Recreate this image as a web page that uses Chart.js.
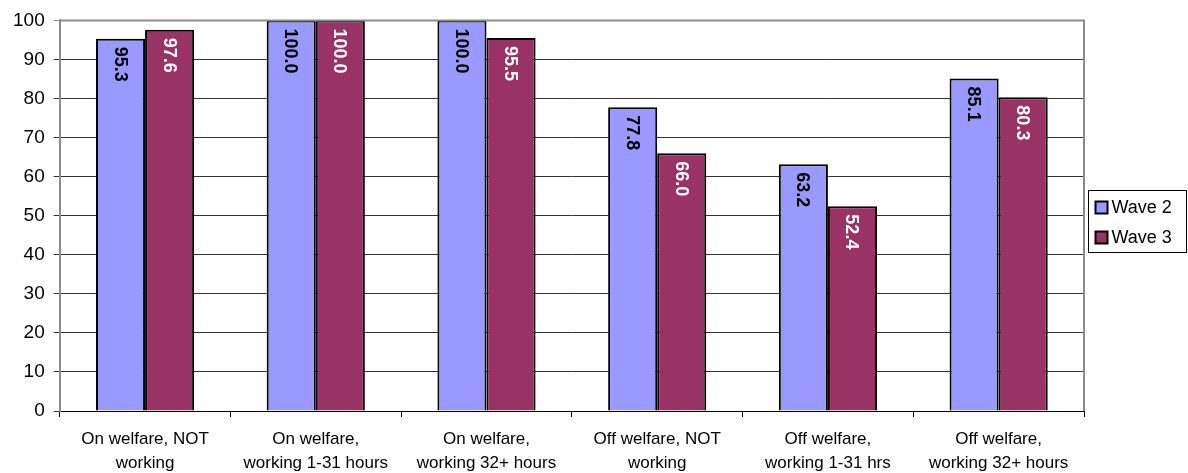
<!DOCTYPE html>
<html>
<head>
<meta charset="utf-8">
<script src="https://cdn.jsdelivr.net/npm/chart.js@4"></script>
<style>
  html, body { margin: 0; padding: 0; background: #fff; }
  #wrap { width: 1188px; height: 473px; position: relative; }
</style>
</head>
<body>
<div id="wrap"><canvas id="waveChart"></canvas></div>
<script>
// Categories and values per wave
const categories = [
    ['On welfare, NOT', 'working'],
    ['On welfare,', 'working 1-31 hours'],
    ['On welfare,', 'working 32+ hours'],
    ['Off welfare, NOT', 'working'],
    ['Off welfare,', 'working 1-31 hrs'],
    ['Off welfare,', 'working 32+ hours']
];
const wave2 = [95.3, 100.0, 100.0, 77.8, 63.2, 85.1];
const wave3 = [97.6, 100.0, 95.5, 66.0, 52.4, 80.3];
const yTicks = [0, 10, 20, 30, 40, 50, 60, 70, 80, 90, 100];

const FONT = 'Arial, "Liberation Sans", sans-serif';

// Rotated value labels inside the top of each bar
const barLabels = {
    id: 'barLabels',
    afterDatasetsDraw(chart) {
        const c = chart.ctx;
        chart.data.datasets.forEach((ds, i) => {
            const meta = chart.getDatasetMeta(i);
            meta.data.forEach((bar, j) => {
                c.save();
                c.translate(bar.x, bar.y + 8);
                c.rotate(Math.PI / 2);
                c.font = 'bold 18px ' + FONT;
                c.fillStyle = ds.labelColor;
                c.textAlign = 'left';
                c.textBaseline = 'middle';
                c.fillText(ds.data[j].toFixed(1), 0, 1);
                c.restore();
            });
        });
    }
};

// Gray right/top frame and boxed legend
const frameAndLegend = {
    id: 'frameAndLegend',
    afterDraw(chart) {
        const c = chart.ctx;
        const a = chart.chartArea;
        c.save();
        c.strokeStyle = '#8c8c8c';
        c.lineWidth = 2;
        c.beginPath();
        c.moveTo(a.left, a.top);
        c.lineTo(a.right, a.top);
        c.lineTo(a.right, a.bottom);
        c.stroke();

        // legend box
        const lx = 1088.5, ly = 190.5, lw = 98, lh = 62;
        c.strokeStyle = '#000';
        c.lineWidth = 1;
        c.strokeRect(lx, ly, lw, lh);
        c.font = '18px ' + FONT;
        c.textBaseline = 'middle';
        c.textAlign = 'left';
        chart.data.datasets.forEach((ds, i) => {
            const cy = ly + 17 + i * 30;
            c.fillStyle = ds.backgroundColor;
            c.fillRect(lx + 7, cy - 6, 12, 12);
            c.lineWidth = 2;
            c.strokeStyle = '#000';
            c.strokeRect(lx + 7, cy - 6, 12, 12);
            c.fillStyle = '#000';
            c.fillText(ds.label, lx + 23, cy + 1);
        });
        c.restore();
    }
};

const ctx = document.getElementById('waveChart').getContext('2d');
new Chart(ctx, {
    type: 'bar',
    data: {
        labels: categories,
        datasets: [
            {
                label: 'Wave 2',
                data: wave2,
                backgroundColor: '#9999ff',
                borderColor: '#000',
                borderWidth: 2,
                labelColor: '#000'
            },
            {
                label: 'Wave 3',
                data: wave3,
                backgroundColor: '#993366',
                borderColor: '#000',
                borderWidth: 2,
                labelColor: '#fff'
            }
        ]
    },
    options: {
        responsive: true,
        maintainAspectRatio: false,
        animation: false,
        devicePixelRatio: 1,
        layout: { padding: { left: 4, right: 104, top: 5, bottom: -12 } },
        plugins: {
            legend: { display: false },
            tooltip: { enabled: false }
        },
        datasets: {
            bar: { categoryPercentage: 0.575, barPercentage: 1.0, borderSkipped: 'bottom' }
        },
        scales: {
            x: {
                grid: {
                    offset: true,
                    drawOnChartArea: false,
                    drawTicks: true,
                    tickLength: 6,
                    color: '#000'
                },
                border: { color: '#000', width: 1 },
                ticks: {
                    color: '#000',
                    font: { family: FONT, size: 17, lineHeight: 1.41 },
                    maxRotation: 0,
                    autoSkip: false,
                    padding: 10
                }
            },
            y: {
                min: 0,
                max: 100,
                afterBuildTicks: (axis) => { axis.ticks = yTicks.map(v => ({ value: v })); },
                grid: {
                    color: (c) => c.tick && c.tick.value === 100 ? '#8c8c8c' : '#333',
                    lineWidth: 1,
                    tickLength: 6
                },
                border: { color: '#8c8c8c', width: 2 },
                ticks: {
                    color: '#000',
                    font: { family: FONT, size: 19 },
                    padding: 9
                }
            }
        }
    },
    plugins: [barLabels, frameAndLegend]
});
</script>
</body>
</html>
